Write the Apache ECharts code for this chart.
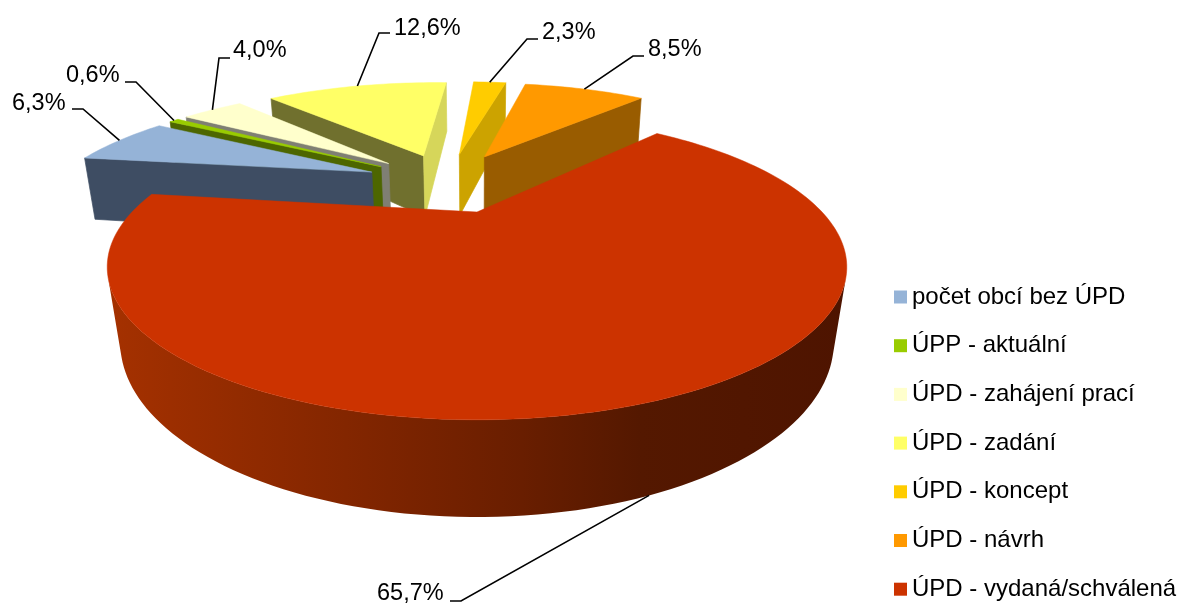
<!DOCTYPE html>
<html>
<head>
<meta charset="utf-8">
<style>html,body{margin:0;padding:0;background:#fff}#c{width:1177px;height:603px}</style>
<script src="https://cdn.jsdelivr.net/npm/echarts@6/dist/echarts.min.js"></script>
</head>
<body>
<div id="c"></div>
<script>
// ---- data ----
const categories = ['počet obcí bez ÚPD','ÚPP - aktuální','ÚPD - zahájení prací','ÚPD - zadání','ÚPD - koncept','ÚPD - návrh','ÚPD - vydaná/schválená'];
const shares = [6.3, 0.6, 4.0, 12.6, 2.3, 8.5, 65.7];
// ---- styles ----
const topColors   = ['#95b3d7','#99cc00','#ffffcc','#ffff66','#ffcc00','#ff9900','#cc3300'];
const startWall   = ['#3e4d63','#4d6600','#7f7f73','#70702e','#997a00','#804d00','#a83200'];
const endWall     = ['#3e4d63','#4d6600','#7f7f73','#d6d65a','#cca300','#995c00','#a83200'];
const drawOrder   = [6, 5, 4, 3, 1, 2, 7];
// text position, elbow and text-side end of every leader line
const labelText = [[12,104],[66,76],[233,51],[394,29],[542,33],[648,50],[377,594]];
const labelElbow = [[83,109],[136,82],[219,58],[379,33],[527,39],[633,56],[461,601]];
const labelEnd = [[72,109],[125,82],[230,58],[390,33],[538,39],[644,56],[450,601]];
// ---- projection of the tilted 3D pie ----
const CX=477, CY=212, A=345, B=133, K=0.36, M=0.032, C=72, EXPLODE=0.265, FIRST=-82.0;
const rad = d => d*Math.PI/180;
function project(u,v,h){
  const s = 1 + K*v + M*h;
  return [CX + A*u/s, CY + (-B*v + C*h)/s];
}
const total = shares.reduce((a,b)=>a+b,0);
const spans = []; let acc = FIRST;
shares.forEach(v => { const d=v/total*360; spans.push([acc,acc+d]); acc+=d; });
const midR = spans[6][0]+ (spans[6][1]-spans[6][0])/2;
const pieU = -EXPLODE*Math.sin(rad(midR)), pieV = -EXPLODE*Math.cos(rad(midR));
const redWallFill = {type:'linear',x:107,y:0,x2:847,y2:0,global:true,colorStops:[
  {offset:0,color:'rgb(165,49,0)'},{offset:0.38,color:'rgb(125,36,0)'},{offset:0.56,color:'rgb(105,30,0)'},
  {offset:0.72,color:'rgb(84,24,0)'},{offset:1,color:'rgb(78,20,0)'}]};
function area(p){let s=0;for(let i=0;i<p.length;i++){const q=p[(i+1)%p.length];s+=p[i][0]*q[1]-q[0]*p[i][1];}return s;}
function renderSlice(idx){
  const [a0,a1]=spans[idx], m=(a0+a1)/2;
  const ou=pieU+EXPLODE*Math.sin(rad(m)), ov=pieV+EXPLODE*Math.cos(rad(m));
  const rim=[]; const n=Math.max(2,Math.ceil((a1-a0)/1.5));
  for(let i=0;i<=n;i++){const t=rad(a0+(a1-a0)*i/n);rim.push([ou+Math.sin(t),ov+Math.cos(t)]);}
  const children=[];
  const quadPts=(P,Q)=>[project(P[0],P[1],0),project(Q[0],Q[1],0),project(Q[0],Q[1],1),project(P[0],P[1],1)];
  const quad=(P,Q,fill)=>{
    const pts=quadPts(P,Q);
    if(area(pts)<0) children.push({type:'polygon',shape:{points:pts},style:{fill:fill,stroke:fill,lineWidth:0.7}});
  };
  quad([ou,ov],rim[0],startWall[idx]);
  quad(rim[n],[ou,ov],endWall[idx]);
  if(idx===6){
    const up=[],down=[];
    for(let i=0;i<n;i++){
      const pts=quadPts(rim[i],rim[i+1]);
      if(area(pts)<0){
        if(!up.length){up.push(pts[0]);down.push(pts[3]);}
        up.push(pts[1]);down.push(pts[2]);
      }
    }
    children.push({type:'polygon',shape:{points:up.concat(down.reverse())},style:{fill:redWallFill}});
  } else {
    for(let i=0;i<n;i++) quad(rim[i],rim[i+1],startWall[idx]);
  }
  const top=[project(ou,ov,0)].concat(rim.map(r=>project(r[0],r[1],0)));
  children.push({type:'polygon',shape:{points:top},style:{fill:topColors[idx],stroke:topColors[idx],lineWidth:0.5}});
  const anchor=project(ou+Math.sin(rad(m)),ov+Math.cos(rad(m)),idx===6?1:0);
  children.push({type:'polyline',shape:{points:[labelEnd[idx],labelElbow[idx],anchor]},style:{stroke:'#000',lineWidth:1.6,fill:null}});
  children.push({type:'text',style:{text:shares[idx].toFixed(1).replace('.',',')+'%',x:labelText[idx][0],y:labelText[idx][1],
    fill:'#000',font:'23.5px "Liberation Sans"',textAlign:'left',textVerticalAlign:'middle'}});
  return {type:'group',children:children};
}
const chart = echarts.init(document.getElementById('c'),null,{renderer:'canvas'});
chart.setOption({
  animation:false,
  backgroundColor:'#fff',
  legend:{
    orient:'vertical',left:894,top:285,itemWidth:13,itemHeight:13,itemGap:24.7,itemStyle:{borderWidth:0},
    icon:'rect',selectedMode:false,data:categories,
    textStyle:{color:'#000',fontFamily:'Liberation Sans',fontSize:24,padding:[0,0,0,0]},
    itemTextGap:5,padding:0
  },
  series:categories.map((name,i)=>({
    type:'custom',name:name,coordinateSystem:'none',z:drawOrder[i],silent:true,
    itemStyle:{color:topColors[i]},
    data:[[shares[i]]],
    renderItem:()=>renderSlice(i)
  }))
});
</script>
</body>
</html>
